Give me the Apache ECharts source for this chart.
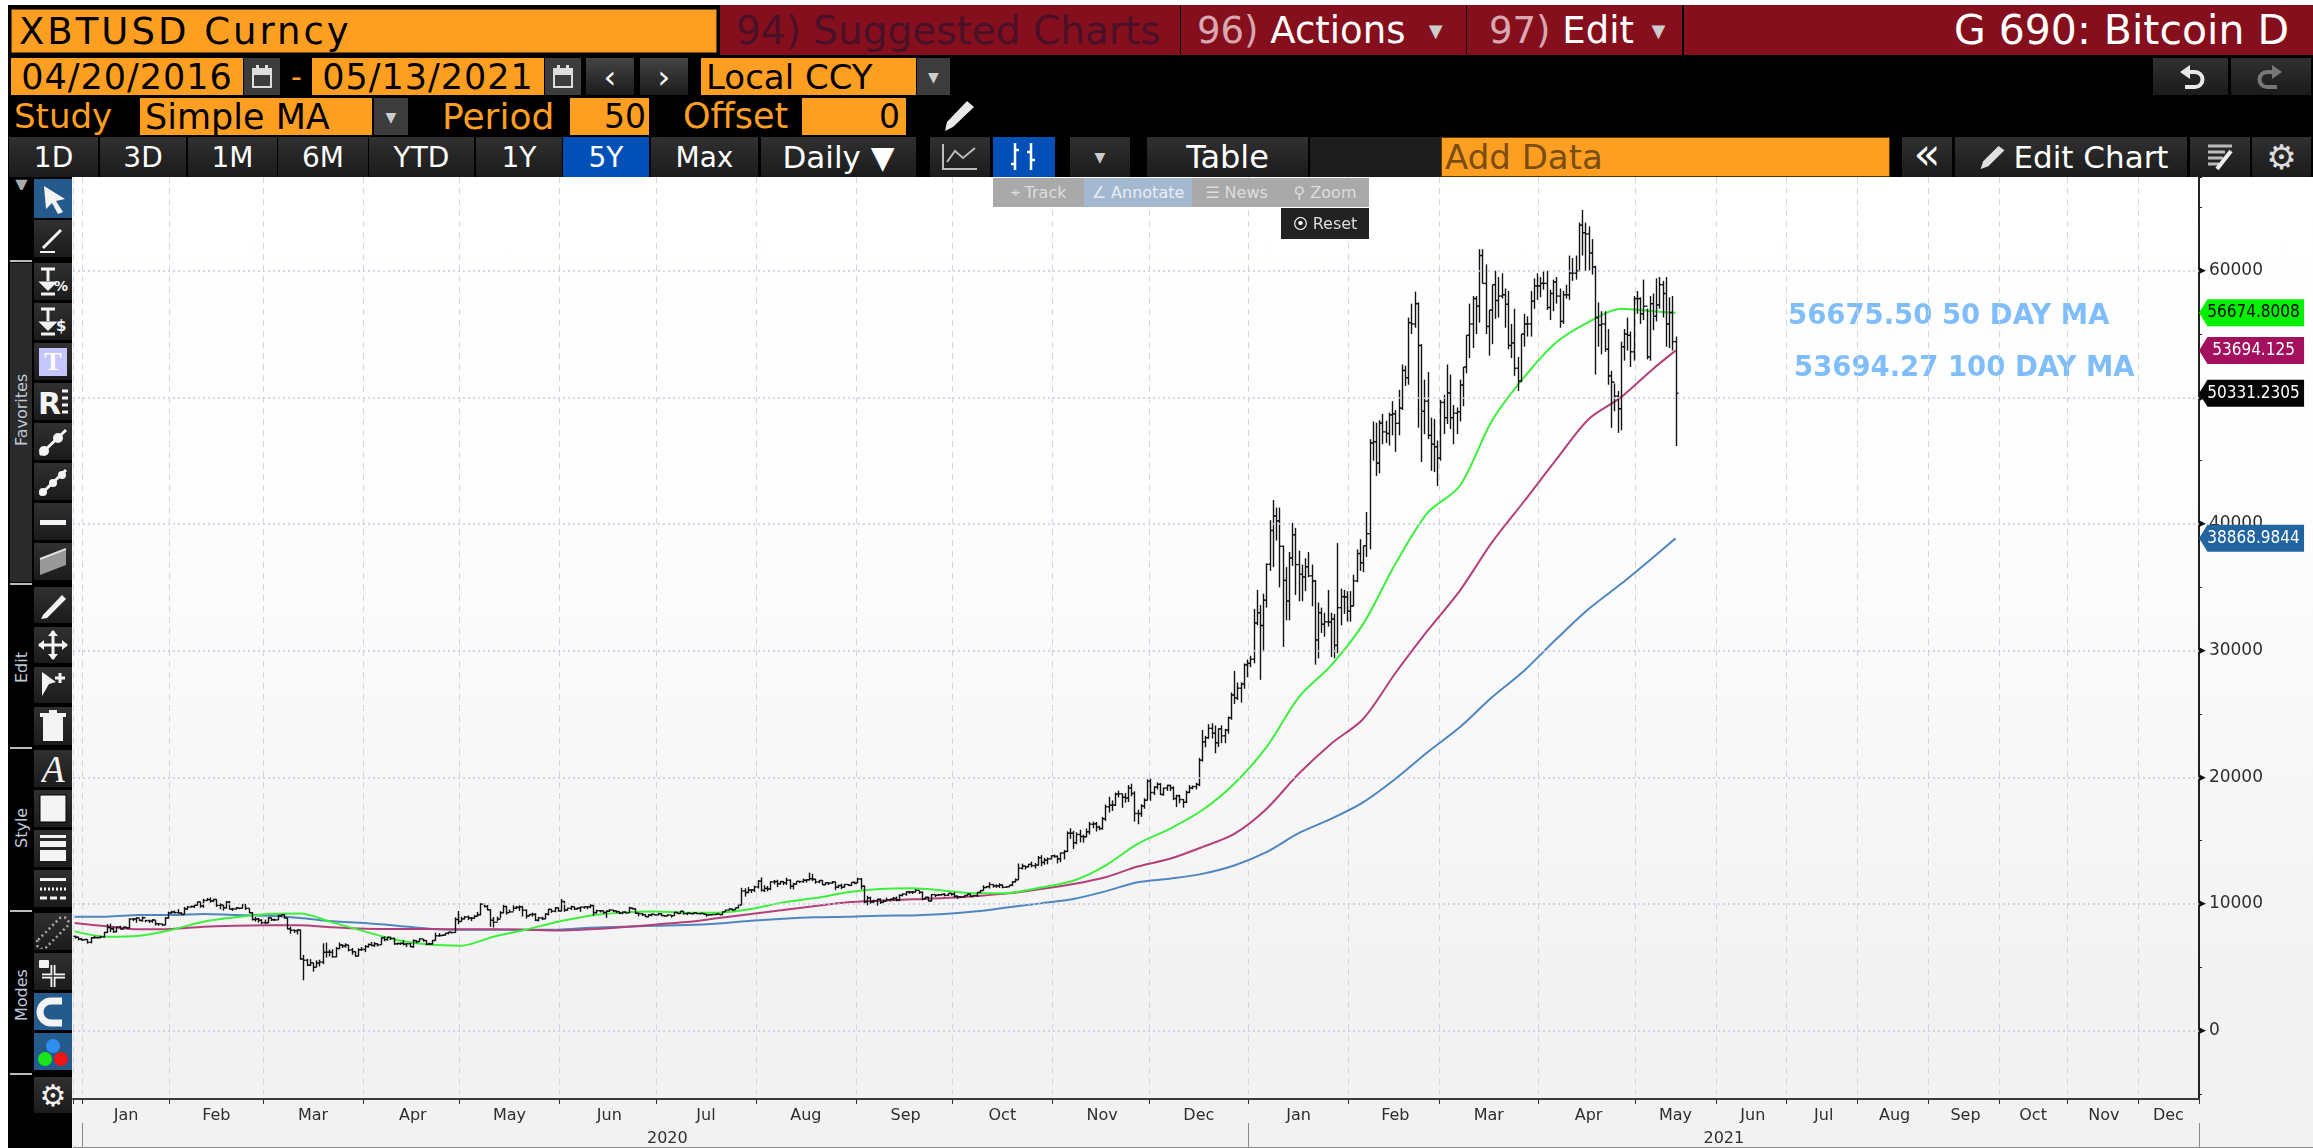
<!DOCTYPE html>
<html><head><meta charset="utf-8"><title>XBTUSD</title>
<script src="https://cdn.jsdelivr.net/npm/echarts@6/dist/echarts.min.js"></script>
<style>
html,body{margin:0;padding:0;width:2313px;height:1148px;overflow:hidden;background:#000;font-family:"DejaVu Sans",sans-serif}
#ui div{position:absolute;box-sizing:border-box;display:flex;align-items:center;white-space:pre;overflow:hidden}
#ui svg{display:block}
#chart{position:absolute;left:72px;top:177px;width:2241px;height:971px;background:linear-gradient(#ffffff 0%,#fdfdfd 35%,#f2f2f2 85%,#f2f2f2 100%)}
.v{writing-mode:vertical-rl;transform:rotate(180deg);justify-content:center}
</style></head><body>
<div id="chart"></div>
<div id="ui"></div>
<script>
/* ---------- chart data ---------- */
const monthNames = ['','Jan','Feb','Mar','Apr','May','Jun','Jul','Aug','Sep','Oct','Nov','Dec','Jan','Feb','Mar','Apr','May','Jun','Jul','Aug','Sep','Oct','Nov','Dec'];
const monthSlots = [3,27,29,31,30,31,30,31,31,30,31,30,31,31,28,31,30,25,22,22,22,22,21,22,19];
const yearNames = ['2020','2021'];
const firstOpen = 7450;
const closes = [
7380,7240,7170,
7200,6970,7330,7350,7350,7400,7760,8150,8050,7820,8190,8020,8180,8110,8810,8820,8900,8700,8920,8690,8650,8740,8450,8430,8350,8900,9300,
9370,9320,9290,9180,9610,9760,9800,9900,10170,9850,10280,10350,10240,10360,9900,9920,9700,10150,9600,9610,9690,9660,9960,9660,9310,8780,8810,8720,8530,
8520,8910,8760,8750,9070,9150,8900,8040,7930,7890,7950,5660,5560,5170,5350,5000,5340,5410,6190,6200,6190,5830,6480,6760,6690,6760,6370,6240,5880,6390,6410,
6640,6800,6730,6860,6780,7330,7200,7370,7290,6860,6880,6900,6840,6860,6630,7110,7030,7240,7120,6830,6850,7120,7490,7510,7540,7690,7780,7750,8780,8620,
8830,8980,8900,8880,9030,9150,9990,9810,9540,8720,8560,8810,9310,9800,9320,9380,9670,9730,9780,9510,9060,9170,9180,8720,8900,8840,9200,9580,9430,9700,9450,
10200,9520,9660,9790,9620,9670,9750,9780,9770,9880,9320,9470,9470,9330,9430,9520,9460,9400,9290,9360,9300,9680,9620,9280,9240,9160,9000,9120,9190,9140,
9230,9090,9050,9130,9080,9340,9250,9430,9240,9280,9240,9300,9240,9260,9190,9130,9150,9170,9210,9160,9390,9520,9600,9540,9700,9930,11030,10910,11100,11110,11350,
11800,11070,11230,11190,11750,11770,11600,11770,11680,11880,11400,11570,11790,11770,11870,11910,12000,11960,11750,11860,11520,11680,11650,11750,11330,11460,11330,11540,11470,11710,11650,
11970,11410,10180,10470,10170,10250,10370,10130,10230,10340,10390,10440,10320,10680,10790,10960,10950,10940,11080,10920,10420,10530,10240,10740,10690,10730,10770,10690,10840,10780,
10620,10570,10550,10670,10790,10600,10670,10920,11060,11300,11370,11540,11430,11430,11500,11320,11370,11500,11750,11910,12820,12990,12940,13130,13030,13070,13650,13280,13460,13560,13810,
13760,13560,14030,14150,15590,15590,14840,15490,15330,15300,15700,16300,16330,16070,15960,16730,17680,17800,17820,18680,18700,18430,18370,19160,18730,17150,17140,17730,18190,19700,
18800,19230,19450,18650,19150,19360,19170,18330,18550,18250,18040,18810,19170,19270,19440,21350,22800,23130,23870,23480,22730,23830,23280,23730,24710,26500,26280,27040,27370,28880,29000,
29330,32190,33000,31990,33990,36820,39490,40630,40250,38240,35550,33910,37330,39150,36800,36030,35820,36630,35910,35500,30850,33000,32090,32280,32260,32500,30420,33400,34270,34240,33110,
33520,35510,37670,36950,38290,39240,46400,46500,44810,47970,47280,47150,48620,48700,47950,49150,52130,51550,55900,55800,57400,54100,48900,49700,47000,46300,46100,45200,
49600,48400,50350,48400,48750,48870,50970,52400,54900,55800,57800,57200,61200,59000,55600,56900,58900,57650,58000,58100,57350,54100,54300,52300,51300,55000,55800,55800,57600,58800,58800,
59000,59000,57100,58200,59100,58000,56000,58100,58100,59800,59800,60000,63600,63000,62900,61400,60300,56300,55700,55800,53800,51700,51200,50100,49100,54000,55000,54900,53600,57800,
57800,56600,57200,53200,57400,56400,57300,58900,58200,55800,56700,54400,50331];
const highs = [
7500,7420,7310,
7240,7210,7400,7490,7400,7500,7800,8420,8450,8200,8200,8280,8200,8200,8880,8900,8950,8850,9010,8750,8760,8800,8720,8500,8440,8980,9400,
9470,9480,9600,9350,9770,9850,9880,9950,10180,10170,10400,10480,10520,10400,10380,10050,9960,10250,10240,9700,9770,9700,9990,10000,9650,9360,8980,8900,8800,
8770,8950,8930,8850,9170,9190,9180,8900,8200,8000,8000,7970,5980,5670,5650,5380,5560,5600,6900,6950,6400,6430,6600,6960,6830,6900,6780,6530,6260,6500,6600,
6750,6880,7000,7000,6900,7360,7450,7430,7420,7330,6950,6950,7150,6880,6930,7200,7140,7290,7240,7140,6950,7160,7740,7700,7590,7720,7800,7800,8950,9450,
9000,9060,9100,8970,9120,9380,10060,10050,9920,9580,8980,9000,9440,9950,9860,9560,9900,9850,9890,9840,9570,9200,9320,9280,8980,9000,9270,9620,9600,9750,9720,
10400,10230,9700,9870,9800,9730,9800,9800,9830,9980,9940,9550,9500,9480,9500,9590,9540,9480,9410,9400,9420,9780,9720,9660,9310,9280,9190,9200,9240,9200,
9290,9280,9120,9190,9120,9380,9370,9450,9440,9330,9280,9330,9340,9290,9270,9200,9190,9190,9240,9230,9400,9550,9660,9650,9720,10000,11280,11240,11340,11180,11450,
11890,12100,11480,11420,11800,11900,11920,11820,11820,12080,11940,11680,11800,11800,12010,11960,12480,12380,11990,11890,11890,11720,11710,11810,11770,11520,11600,11590,11580,11710,11790,
12080,12050,11460,10650,10580,10350,10410,10440,10350,10500,10420,10560,10590,10770,10830,11000,11030,11030,11170,11050,10990,10570,10570,10780,10760,10790,10790,10850,10860,10860,
10920,10670,10600,10680,10800,10800,10690,10950,11110,11480,11430,11720,11560,11550,11630,11540,11410,11500,11820,12020,13200,13180,13030,13170,13350,13240,13790,13860,13640,13680,13840,
13900,13830,14060,14260,15740,15980,15770,15660,15860,15480,15970,16480,16500,16480,16180,16880,17860,18470,18180,18800,18950,18700,18760,19400,19500,18900,17450,17880,18350,19840,
19900,19300,19600,19540,19180,19420,19420,19290,18630,18630,18290,18950,19400,19350,19570,21540,23750,23280,24200,24280,24100,23870,24100,23830,24800,26700,28400,27490,27500,29000,29300,
29600,33300,34800,33600,34500,36900,40300,41900,41300,41300,38300,36600,37800,40100,39700,37900,36800,37300,37800,36800,35600,33800,33400,33000,34800,33000,32900,38500,34900,34800,34700,
34700,36000,38000,38800,38300,40950,46700,48100,48000,48200,48700,48150,48800,49700,49000,50600,52600,52500,56300,57400,58350,57500,54200,51400,52000,48400,48300,46600,
49800,50200,52600,51800,49400,49200,51400,52400,54900,57400,58000,58000,61700,61700,60500,56900,58900,60000,59500,59800,58600,58400,55800,57000,53200,55000,56600,56400,58400,59400,59800,
59500,60000,60000,58500,59300,59500,58600,58400,58900,61200,61000,61200,63800,64800,63800,63500,62500,60400,57500,56800,56800,55400,52100,51100,50500,54400,55400,56300,55200,58000,
58400,57900,59300,57000,58000,58200,59400,59500,59200,59500,57900,58000,54800];
const lows = [
7270,7130,7120,
7150,6880,6900,7280,7280,7300,7350,7700,7780,7720,7760,8000,8000,8050,8100,8650,8520,8650,8600,8560,8500,8520,8300,8280,8270,8330,8850,
9220,9250,9260,9120,9160,9550,9720,9680,9880,9700,9700,10250,10100,10150,9770,9580,9480,9650,9560,9460,9560,9590,9650,9530,9270,8700,8620,8530,8400,
8420,8480,8660,8660,8740,9020,8850,8000,7660,7720,7600,5600,3980,5100,5100,4660,5000,5070,5250,5770,5860,5750,5800,6450,6530,6550,6260,6000,5850,5880,6300,
6200,6560,6670,6610,6650,6780,7060,7100,7150,6780,6780,6760,6730,6600,6600,6540,6900,7000,7030,6750,6760,6800,7100,7430,7470,7500,7600,7670,7730,8400,
8600,8780,8730,8650,8830,8990,9100,9730,9500,8200,8150,8640,8900,9270,9160,9310,9450,9590,9450,9010,8850,9030,9000,8650,8620,8730,8800,9100,9300,9350,9400,
9420,9380,9450,9530,9520,9550,9380,9620,9580,9670,9090,9240,9330,9250,8900,9380,9360,9280,9200,9190,9260,9290,9570,9220,9020,9050,8970,8950,9020,9100,
9100,9040,9000,9040,8930,9060,9220,9240,9180,9120,9200,9170,9210,9170,9170,9000,9110,9130,9140,9150,9140,9370,9510,9460,9530,9650,9900,10580,10850,10870,10950,
11220,11000,10950,11000,11100,11550,11340,11530,11500,11500,11180,11150,11540,11650,11680,11680,11850,11800,11600,11640,11500,11500,11500,11600,11100,11250,11180,11280,11440,11420,11560,
11650,11170,10040,9900,10020,10050,9870,10000,10100,10220,10210,10250,10210,10210,10600,10650,10800,10790,10890,10800,10300,10370,10200,10200,10550,10660,10650,10600,10650,10660,
10500,10400,10530,10520,10640,10540,10590,10560,10840,11050,11280,11220,11290,11280,11270,11240,11280,11330,11400,11700,11890,12720,12720,12880,12900,12800,13050,12980,13100,13130,13520,
13640,13200,13290,13520,14100,15150,14350,14720,14870,14850,15270,15480,15980,15720,15830,15870,16560,17220,17350,17730,18420,17600,18000,18050,18500,16500,16300,16880,17520,18180,
18150,18600,19050,18600,18550,18930,18920,18200,17650,17950,17600,17970,18750,19050,19050,19300,21250,22370,23050,23060,21900,22400,22700,22700,23450,24550,25800,26100,25900,27000,27900,
28700,29000,32000,27700,29900,33400,36300,36600,38700,35000,30300,32400,32400,36700,34400,33900,33900,34700,35800,33500,28900,29400,31400,31100,31900,29500,29400,29800,32000,32900,32300,
32300,33500,35400,36300,36200,37400,38000,45000,43800,44000,46300,46400,46200,47000,45700,47000,49000,50900,51000,55000,55500,47600,44900,47100,46700,44200,44100,43000,
45000,47100,47900,47500,46300,47100,48100,49300,51900,53100,53900,55000,55900,59000,55000,53300,54200,56200,56300,57800,55500,53800,53100,51700,50500,51200,54000,54800,54800,57000,57700,
57900,58500,56900,56100,56800,57400,55500,55800,57800,57700,59200,59300,59900,61200,60000,60000,59700,51800,54000,53400,53600,51000,47600,48900,47200,47400,52900,53700,52400,52900,
56600,55800,56100,53000,52900,55300,56000,57000,56300,54000,53900,53700,46160];
const ma50 = [7840,7420,7500,7950,8600,8950,9210,9260,8550,7840,7160,6800,6710,7420,7970,8600,9080,9320,9400,9320,9320,9600,10130,10470,10920,11180,11240,11050,10840,10870,11300,11840,13040,14750,15940,17400,19500,22380,26320,28820,32100,36840,40880,43000,48150,51600,54360,55950,57000,56800,56675];
const ma100 = [8500,8240,8000,8030,8210,8290,8320,8320,8160,8050,8030,8030,8000,8000,7970,7900,8000,8160,8370,8580,8900,9210,9530,9840,10130,10260,10370,10470,10630,10840,11180,11580,12120,12960,13570,14490,15540,17510,20280,22640,24610,28220,31580,34730,38550,41800,45100,48280,50000,52250,53694];
const ma200 = [9000,9000,9130,9130,9210,9130,9080,8900,8630,8500,8290,8050,7970,7970,7970,7970,8130,8210,8290,8340,8470,8680,8840,8950,9000,9080,9100,9210,9420,9740,10050,10390,11000,11720,12000,12380,13040,14090,15590,16720,18030,19870,21980,23950,26320,28420,30920,33290,35260,37360,38869];
const gridValues = [0,10000,20000,30000,40000,50000,60000];
const lastValues = {ma50:'56674.8008',ma100:'53694.125',price:'50331.2305',ma200:'38868.9844'};
const lastNumbers = {ma50:56674.8,ma100:53694.125,price:50331.23,ma200:38868.98};
const notes = ['56675.50 50 DAY MA','53694.27 100 DAY MA'];

if(closes.length!==498||highs.length!==498||lows.length!==498) throw new Error('len '+closes.length+' '+highs.length+' '+lows.length);

/* ---------- axes ---------- */
const categories=[], monthTickIdx=new Set(), monthLabel={}, yearLabel={}, yearTickIdx=new Set();
let n=0;
monthSlots.forEach((s,m)=>{
  const yr=m===0?2019:(m<=12?2020:2021);
  const start=n;
  for(let i=0;i<s;i++){categories.push(yr+'-'+m+'-'+i);n++;}
  monthTickIdx.add(start);
  if(monthNames[m]) monthLabel[categories[start+Math.floor(s/2)]]=monthNames[m];
  if(m===1||m===13) yearTickIdx.add(start);
});
const y2021=[...yearTickIdx][1];
yearLabel[categories[Math.floor((3+y2021)/2)]]=yearNames[0];
yearLabel[categories[Math.floor((y2021+categories.length)/2)]]=yearNames[1];

const lastIdx=closes.length-1;
const ohlc=closes.map((c,i)=>[i,i?closes[i-1]:firstOpen,highs[i],lows[i],c]);
const maData=a=>a.map((v,i)=>[Math.min(i*10,lastIdx),v]);
const axFont='"DejaVu Sans",sans-serif';
const TAG='path://M0 50 L8 0 L100 0 L100 100 L8 100 Z';
const tag=(val,txt,col,fg)=>({coord:[lastIdx,val],symbol:TAG,symbolSize:[105,27],symbolOffset:[576,0],
  itemStyle:{color:col},label:{show:true,position:'inside',formatter:txt,color:fg,fontSize:17,fontFamily:'"DejaVu Sans Condensed","DejaVu Sans",sans-serif',offset:[2,0]}});

const chart=echarts.init(document.getElementById('chart'),null,{renderer:'canvas',width:2241,height:971});
chart.setOption({
  animation:false,backgroundColor:'transparent',
  grid:{left:1,top:0,width:2126,height:917},
  xAxis:[{
    type:'category',data:categories,position:'bottom',offset:5,boundaryGap:true,
    axisLine:{show:true,onZero:false,lineStyle:{color:'#3a3a3a',width:2}},
    axisTick:{show:true,length:5,interval:i=>monthTickIdx.has(i),lineStyle:{color:'#333'}},
    axisLabel:{show:true,interval:(i,v)=>!!monthLabel[v],formatter:v=>monthLabel[v]||'',color:'#2e2e2e',fontSize:16,fontFamily:axFont,margin:9,hideOverlap:false},
    splitLine:{show:true,interval:i=>monthTickIdx.has(i),lineStyle:{type:[6,5],color:'#d2d6e3',width:1}}
  },{
    type:'category',data:categories,position:'bottom',offset:29,boundaryGap:true,
    axisLine:{show:false,onZero:false},
    axisTick:{show:true,length:25,interval:i=>yearTickIdx.has(i),lineStyle:{color:'#8a8a8a'}},
    axisLabel:{show:true,interval:(i,v)=>!!yearLabel[v],formatter:v=>yearLabel[v]||'',color:'#2e2e2e',fontSize:16,fontFamily:axFont,margin:8,hideOverlap:false},
    splitLine:{show:false}
  }],
  yAxis:{
    type:'value',position:'right',min:-5000,max:67400,interval:5000,scale:false,
    axisLine:{show:true,lineStyle:{color:'#222',width:2}},
    axisTick:{show:true,length:3,inside:false,lineStyle:{color:'#222'}},
    axisLabel:{show:true,margin:0,color:'#2e2e2e',fontSize:17,fontFamily:axFont,
      formatter:v=>(v%10000===0&&v>=0)?'{t|\u25B6}{b|'+v+'}':'',
      rich:{t:{fontSize:9,color:'#111',padding:[0,3,0,0]},b:{fontSize:17,color:'#2e2e2e',fontFamily:axFont}}},
    splitLine:{show:false}
  },
  graphic:[
    {type:'text',x:1788-72,y:314-177-11,silent:true,style:{text:notes[0],fill:'#7fbdfb',font:'bold 27.5px "DejaVu Sans",sans-serif'}},
    {type:'text',x:1794-72,y:366-177-11,silent:true,style:{text:notes[1],fill:'#7fbdfb',font:'bold 27.5px "DejaVu Sans",sans-serif'}},
    {type:'rect',shape:{x:2126,y:917,width:2,height:6},style:{fill:'#222'},silent:true},
    {type:'rect',shape:{x:1,y:970,width:2240,height:1},style:{fill:'#8a8a8a'},silent:true}
  ],
  series:[
    {type:'line',name:'grid',data:[],silent:true,z:1,
     markLine:{silent:true,symbol:'none',animation:false,label:{show:false},lineStyle:{type:[2,3],color:'#c6cadd',width:1.5},data:gridValues.map(v=>({yAxis:v}))}},
    {type:'line',name:'200 DAY MA',data:maData(ma200),showSymbol:false,smooth:0.3,connectNulls:true,z:3,lineStyle:{color:'#4f86c0',width:2},
     markPoint:{silent:true,animation:false,data:[tag(lastNumbers.ma200,lastValues.ma200,'#22649f','#fff')]}},
    {type:'line',name:'100 DAY MA',data:maData(ma100),showSymbol:false,smooth:0.3,connectNulls:true,z:3,lineStyle:{color:'#b3407a',width:2},
     markPoint:{silent:true,animation:false,data:[tag(lastNumbers.ma100,lastValues.ma100,'#a3115e','#fff')]}},
    {type:'line',name:'50 DAY MA',data:maData(ma50),showSymbol:false,smooth:0.3,connectNulls:true,z:3,lineStyle:{color:'#3cf03c',width:2},
     markPoint:{silent:true,animation:false,data:[tag(lastNumbers.ma50,lastValues.ma50,'#00f000','#000')]}},
    {type:'custom',name:'XBTUSD',data:ohlc,z:4,clip:false,encode:{x:0,y:[1,2,3,4]},
     renderItem:(p,api)=>{
       const i=api.value(0),st={stroke:'#111',lineWidth:1.4,fill:null};
       const hi=api.coord([i,api.value(2)]),lo=api.coord([i,api.value(3)]),op=api.coord([i,api.value(1)]),cl=api.coord([i,api.value(4)]);
       const x=Math.round(hi[0])+.5,seg=(a,b,c,d)=>({type:'line',shape:{x1:a,y1:b,x2:c,y2:d},style:st,silent:true});
       return {type:'group',silent:true,children:[seg(x,hi[1],x,lo[1]),seg(x-2,op[1],x,op[1]),seg(x,cl[1],x+2,cl[1])]};
     },
     markPoint:{silent:true,animation:false,data:[tag(lastNumbers.price,lastValues.price,'#050505','#fff')]}}
  ]
});

/* ---------- terminal chrome ---------- */
const ui=document.getElementById('ui');
const ORANGE='#ff9f22',DARK='linear-gradient(#303030,#1b1b1b)',RED='#860f1e';
function box(x0,y0,x1,y1,o={}){
  const d=document.createElement('div');
  d.style.cssText=`left:${x0}px;top:${y0}px;width:${x1-x0}px;height:${y1-y0}px;background:${o.bg||'transparent'};color:${o.c||'#fff'};font-size:${o.fs||28}px;justify-content:${o.j||'center'};`+(o.pad?`padding-${o.j==='flex-end'?'right':'left'}:${o.pad}px;`:'')+(o.ls?`letter-spacing:${o.ls}px;`:'')+(o.x||'');
  d.innerHTML=o.t||'';
  if(o.cls)d.className=o.cls;
  ui.appendChild(d);return d;
}
// outer white strips
box(0,0,2313,5,{bg:'#fff'});box(0,0,8,1148,{bg:'#fff'});
// row 1
box(11,9,717,53,{bg:ORANGE,c:'#000',fs:37,j:'flex-start',pad:7,ls:3,t:'XBTUSD Curncy',x:'border:1px solid #7a4a00;'});
box(720,5,1180,55,{bg:RED,c:'#4a1028',fs:39,j:'flex-start',pad:16,t:'94) Suggested Charts'});
box(1181,5,1466,55,{bg:RED,fs:37,j:'flex-start',pad:16,t:'<span style="color:#d8a8b0">96)</span> Actions <span style="font-size:18px;color:#ccc">&nbsp;&nbsp;▼</span>'});
box(1467,5,1682,55,{bg:RED,fs:37,j:'flex-start',pad:22,t:'<span style="color:#d8a8b0">97)</span> Edit <span style="font-size:18px;color:#ccc">&nbsp;▼</span>'});
box(1684,5,2313,55,{bg:RED,fs:41,j:'flex-end',pad:24,t:'G 690: Bitcoin D'});
// row 2
box(11,58,243,95,{bg:ORANGE,c:'#000',fs:35,ls:1,t:'04/20/2016'});
const cal=`<svg width="24" height="26" viewBox="0 0 24 26"><rect x="3" y="5" width="18" height="18" fill="none" stroke="#ddd" stroke-width="2"/><rect x="3" y="5" width="18" height="6" fill="#ddd"/><rect x="6" y="1" width="3" height="6" fill="#ddd"/><rect x="15" y="1" width="3" height="6" fill="#ddd"/></svg>`;
box(244,58,280,95,{bg:'#3c3c3c',t:cal});
box(283,58,310,95,{c:ORANGE,fs:30,t:'-'});
box(312,58,544,95,{bg:ORANGE,c:'#000',fs:35,ls:1,t:'05/13/2021'});
box(545,58,581,95,{bg:'#3c3c3c',t:cal});
box(586,58,634,95,{bg:DARK.replace('#303030','#444'),fs:32,t:'‹'});
box(640,58,688,95,{bg:DARK.replace('#303030','#444'),fs:32,t:'›'});
box(701,58,916,95,{bg:ORANGE,c:'#000',fs:34,j:'flex-start',pad:5,t:'Local CCY'});
box(917,58,950,95,{bg:'#3c3c3c',fs:14,c:'#ccc',t:'▼'});
// undo / redo
const undo=c=>`<svg width="32" height="30" viewBox="0 0 32 30"><path d="M15 3 L5 10 L15 17 V12 H20 a5 5 0 0 1 0 11 H10 v4 H20 a9 9 0 0 0 0 -19 H15 Z" fill="${c}"/></svg>`;
box(2153,58,2228,95,{bg:DARK,t:undo('#e8e8e8')});
box(2231,58,2311,95,{bg:DARK,t:`<div style="position:static;transform:scaleX(-1)">${undo('#777')}</div>`});
// row 3
box(14,97,125,135,{c:ORANGE,fs:34,j:'flex-start',t:'Study'});
box(140,98,372,135,{bg:ORANGE,c:'#000',fs:35,j:'flex-start',pad:5,t:'Simple MA'});
box(374,98,408,135,{bg:'#3c3c3c',fs:14,c:'#ccc',t:'▼'});
box(442,97,565,135,{c:ORANGE,fs:36,j:'flex-start',t:'Period'});
box(570,98,649,135,{bg:ORANGE,c:'#000',fs:33,j:'flex-end',pad:3,t:'50'});
box(683,97,798,135,{c:ORANGE,fs:35,j:'flex-start',t:'Offset'});
box(802,98,906,135,{bg:ORANGE,c:'#000',fs:33,j:'flex-end',pad:6,t:'0'});
box(936,97,980,135,{t:`<svg width="38" height="36" viewBox="0 0 38 36"><path d="M28 3 L35 9 L14 29 L6 33 L8 24 Z" fill="#e8e8e8"/></svg>`});
// row 4
[[9,98,'1D'],[100,186,'3D'],[188,277,'1M'],[278,368,'6M'],[369,474,'YTD'],[476,562,'1Y'],[651,758,'Max']].forEach(a=>box(a[0],137,a[1],177,{bg:DARK,fs:28,t:a[2]}));
box(563,137,649,177,{bg:'#0050b8',fs:28,t:'5Y'});
box(761,137,916,177,{bg:DARK,fs:31,t:'Daily ▼'});
box(930,137,990,177,{bg:DARK,t:`<svg width="40" height="32" viewBox="0 0 40 32"><path d="M3 3 V28 H37" stroke="#bbb" stroke-width="2" fill="none"/><path d="M7 21 L15 10 L23 17 L35 7" stroke="#bbb" stroke-width="2" fill="none"/></svg>`});
box(993,137,1055,177,{bg:'#0050b8',t:`<svg width="40" height="34" viewBox="0 0 40 34"><path d="M11 3 V30 M7 24 H11 M11 10 H15 M27 3 V30 M23 12 H27 M27 20 H31" stroke="#fff" stroke-width="2.5" fill="none"/></svg>`});
box(1070,137,1130,177,{bg:DARK,fs:14,c:'#ccc',t:'▼'});
box(1147,137,1308,177,{bg:DARK,fs:32,t:'Table'});
box(1310,137,1441,177,{bg:'#1c1c1c'});
box(1441,137,1890,177,{bg:ORANGE,c:'#7a4d10',fs:34,j:'flex-start',pad:3,t:'Add Data',x:'border:1px solid #5c3800;'});
box(1902,137,1952,177,{bg:DARK,fs:44,t:'«',x:'padding-bottom:8px;'});
box(1955,137,2187,177,{bg:DARK,fs:31,t:`<svg width="34" height="32" viewBox="0 0 40 32" style="margin-right:6px"><path d="M30 3 L37 8 L18 27 L9 30 L12 21 Z" fill="#e0e0e0"/></svg>Edit Chart`});
box(2190,137,2250,177,{bg:DARK,t:`<svg width="34" height="30" viewBox="0 0 34 30"><path d="M5 4 H29 M5 10 H22 M5 16 H20 M5 22 H16" stroke="#bbb" stroke-width="3"/><path d="M28 9 L14 27" stroke="#eee" stroke-width="4"/></svg>`});
box(2252,137,2311,177,{bg:DARK,fs:34,c:'#ddd',t:'⚙'});
// chart mini toolbar
box(993,178,1084,207,{bg:'#a9a9a9',c:'#ddd',fs:16,t:'⌖ Track'});
box(1084,178,1192,207,{bg:'#a4b9d1',c:'#e8edf3',fs:16,t:'∠ Annotate'});
box(1192,178,1281,207,{bg:'#a9a9a9',c:'#ddd',fs:16,t:'☰ News'});
box(1281,178,1369,207,{bg:'#a9a9a9',c:'#ddd',fs:16,t:'⚲ Zoom'});
box(1281,208,1369,239,{bg:'#222',c:'#ddd',fs:16,t:'<span style="font-size:15px;color:#fff">⦿</span>&nbsp;Reset'});
// left toolbar
const s=(inner)=>`<svg width="36" height="34" viewBox="0 0 36 34">${inner}</svg>`;
const W='#f4f4f4';
const icons=[
 [179,218,s(`<path d="M9 4 L30 17 L21 19 L28 30 L23 32 L17 21 L11 27 Z" fill="${W}"/>`),'#255a8c'],
 [220,257,s(`<path d="M8 26 L26 8" stroke="${W}" stroke-width="3"/><path d="M5 30 H20" stroke="${W}" stroke-width="2"/>`)],
 [263,300,s(`<path d="M6 4 H20 M13 4 V16 M7 18 H19 L13 24 Z M6 29 H20" stroke="${W}" stroke-width="3" fill="${W}"/><text x="19" y="26" fill="${W}" font-size="14" font-weight="bold" font-family="DejaVu Sans">%</text>`)],
 [303,340,s(`<path d="M6 4 H20 M13 4 V16 M7 18 H19 L13 24 Z M6 29 H20" stroke="${W}" stroke-width="3" fill="${W}"/><text x="21" y="26" fill="${W}" font-size="15" font-weight="bold" font-family="DejaVu Sans">$</text>`)],
 [343,380,`<div style="position:static;width:28px;height:28px;background:#c6c6ff;color:#fff;font:bold 26px 'Liberation Serif',serif;justify-content:center">T</div>`],
 [383,420,s(`<text x="3" y="29" fill="${W}" font-size="30" font-weight="bold" font-family="DejaVu Sans">R</text><path d="M27 6 H33 M27 13 H33 M27 20 H33 M27 27 H33" stroke="${W}" stroke-width="3"/>`)],
 [423,460,s(`<path d="M5 30 L31 5" stroke="${W}" stroke-width="3"/><circle cx="9" cy="26" r="5" fill="${W}"/><circle cx="23" cy="13" r="5" fill="${W}"/>`)],
 [463,500,s(`<path d="M5 30 L31 5" stroke="${W}" stroke-width="3"/><circle cx="8" cy="27" r="4" fill="${W}"/><circle cx="18" cy="18" r="4" fill="${W}"/><circle cx="27" cy="10" r="4" fill="${W}"/>`)],
 [503,540,s(`<rect x="5" y="15" width="26" height="5" fill="${W}"/>`)],
 [543,580,s(`<path d="M5 14 L31 4 V20 L5 30 Z" fill="#999"/><path d="M5 14 L31 4" stroke="#ddd" stroke-width="2"/>`)],
 [587,623,s(`<path d="M8 27 L27 7 L31 11 L12 30 L6 31 Z" fill="${W}"/>`)],
 [627,663,s(`<path d="M18 3 V31 M4 17 H32" stroke="${W}" stroke-width="3"/><path d="M13 8 L18 2 L23 8 Z M13 26 L18 32 L23 26 Z M9 12 L3 17 L9 22 Z M27 12 L33 17 L27 22 Z" fill="${W}"/>`)],
 [667,703,s(`<path d="M7 4 L21 14 L14 16 L7 28 Z" fill="${W}"/><path d="M25 5 V15 M20 10 H30" stroke="${W}" stroke-width="3"/>`)],
 [707,745,s(`<rect x="8" y="8" width="20" height="24" fill="${W}"/><rect x="5" y="4" width="26" height="4" fill="${W}"/><rect x="14" y="1" width="8" height="3" fill="${W}"/>`)],
 [750,787,`<div style="position:static;color:${W};font:italic 38px 'Liberation Serif',serif;justify-content:center">A</div>`],
 [790,827,s(`<rect x="5" y="3" width="26" height="27" fill="${W}" stroke="#000"/>`)],
 [830,867,s(`<rect x="5" y="3" width="26" height="3" fill="${W}"/><rect x="5" y="9" width="26" height="6" fill="${W}"/><rect x="5" y="18" width="26" height="11" fill="${W}"/>`)],
 [870,907,s(`<rect x="5" y="6" width="26" height="3" fill="${W}"/><path d="M5 17 H31" stroke="${W}" stroke-width="3" stroke-dasharray="2 2"/><path d="M5 26 H31" stroke="${W}" stroke-width="3" stroke-dasharray="7 3"/>`)],
 [913,950,s(`<rect x="-3" y="12" width="40" height="11" rx="5" fill="none" stroke="#aaa" stroke-width="2.5" stroke-dasharray="2 3" transform="rotate(-45 18 17)"/>`)],
 [953,990,s(`<path d="M18 10 V32 M7 21 H30" stroke="${W}" stroke-width="5"/><path d="M18 10 V32 M7 21 H30" stroke="#333" stroke-width="1.5"/><rect x="4" y="5" width="10" height="8" rx="1" fill="${W}"/>`)],
 [993,1030,s(`<path d="M27 6 H16 a11 11 0 0 0 0 22 H27" fill="none" stroke="${W}" stroke-width="7"/>`),'#255a8c'],
 [1033,1070,s(`<circle cx="18" cy="11" r="7" fill="#2f8ff0"/><circle cx="10" cy="24" r="7" fill="#19e619"/><circle cx="26" cy="24" r="7" fill="#f01414"/>`),'#255a8c'],
 [1077,1113,`<span style="font-size:30px;color:${W}">⚙</span>`]
];
icons.forEach(i=>box(34,i[0],72,i[1],{bg:i[3]||DARK,t:i[2]}));
box(10,263,32,582,{bg:'#2a2a2a'});
[260,583,747,910,1073].forEach(y=>box(10,y,32,y+2,{bg:'#bbb'}));
box(10,360,32,460,{cls:'v',c:'#bfc8d8',fs:16,t:'Favorites'});
box(10,645,32,690,{cls:'v',c:'#bfc8d8',fs:16,t:'Edit'});
box(10,800,32,855,{cls:'v',c:'#bfc8d8',fs:16,t:'Style'});
box(10,960,32,1030,{cls:'v',c:'#bfc8d8',fs:16,t:'Modes'});
box(13,178,30,190,{c:'#aaa',fs:16,t:'▼'});
</script>
</body></html>
